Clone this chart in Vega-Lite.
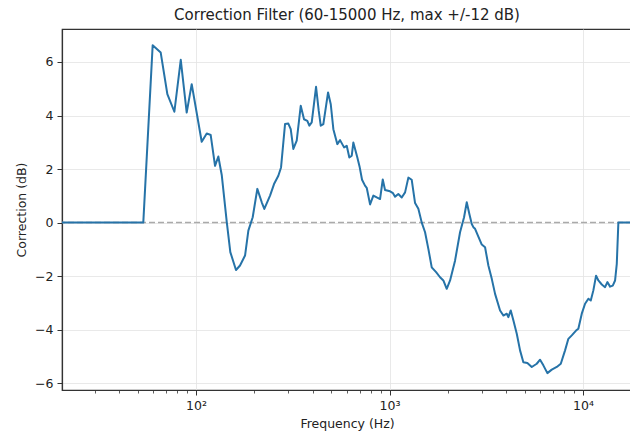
{
  "$schema": "https://vega.github.io/schema/vega-lite/v6.json",
  "width": 570,
  "height": 361,
  "autosize": {"type": "none"},
  "padding": {"left": 62, "top": 29, "right": 0, "bottom": 45},
  "title": {"text": "Correction Filter (60-15000 Hz, max +/-12 dB)", "font": "DejaVu Sans", "fontSize": 15, "fontWeight": "normal", "color": "#222222", "offset": 6, "anchor": "middle"},
  "config": {
    "view": {"stroke": "#333333", "strokeWidth": 1.2},
    "axis": {
      "domainColor": "#333333", "domainWidth": 1.2,
      "tickColor": "#333333", "tickWidth": 1, "tickSize": 5,
      "labelFont": "DejaVu Sans", "labelFontSize": 12.5, "labelColor": "#222222",
      "titleFont": "DejaVu Sans", "titleFontSize": 12.5, "titleFontWeight": "normal", "titleColor": "#222222",
      "gridColor": "#e3e3e3", "gridWidth": 0.8
    }
  },
  "layer": [
    {
      "data": {"values": [{"ref": 0}]},
      "mark": {"type": "rule", "strokeDash": [6, 3], "color": "#aaaaaa", "strokeWidth": 1.5},
      "encoding": {"y": {"field": "ref", "type": "quantitative"}}
    },
    {
      "data": {"values": [
        {"freq": 20.3, "db": 0}, {"freq": 53.4, "db": 0}, {"freq": 59.7, "db": 6.62}, {"freq": 65.7, "db": 6.35},
        {"freq": 71.1, "db": 4.8}, {"freq": 77.3, "db": 4.14}, {"freq": 83.4, "db": 6.08}, {"freq": 89.5, "db": 4.11},
        {"freq": 95.0, "db": 5.17}, {"freq": 107.0, "db": 3.02}, {"freq": 113.6, "db": 3.33}, {"freq": 119.1, "db": 3.27},
        {"freq": 125.4, "db": 2.12}, {"freq": 130.4, "db": 2.47}, {"freq": 135.8, "db": 1.78}, {"freq": 144.1, "db": 0.04},
        {"freq": 150.4, "db": -1.1}, {"freq": 160.9, "db": -1.77}, {"freq": 168.8, "db": -1.6}, {"freq": 179.2, "db": -1.23},
        {"freq": 186.4, "db": -0.3}, {"freq": 196.3, "db": 0.2}, {"freq": 207.4, "db": 1.26}, {"freq": 218.6, "db": 0.76},
        {"freq": 225.4, "db": 0.51}, {"freq": 241.3, "db": 1.01}, {"freq": 253.0, "db": 1.44}, {"freq": 266.3, "db": 1.75},
        {"freq": 275.0, "db": 2.06}, {"freq": 288.4, "db": 3.68}, {"freq": 299.9, "db": 3.7}, {"freq": 308.6, "db": 3.49},
        {"freq": 318.3, "db": 2.75}, {"freq": 331.4, "db": 3.06}, {"freq": 347.6, "db": 4.36}, {"freq": 361.5, "db": 3.86},
        {"freq": 376.0, "db": 3.8}, {"freq": 385.1, "db": 3.62}, {"freq": 396.2, "db": 3.74}, {"freq": 417.1, "db": 5.07},
        {"freq": 430.7, "db": 4.17}, {"freq": 441.0, "db": 3.62}, {"freq": 455.0, "db": 3.68}, {"freq": 481.2, "db": 4.86},
        {"freq": 496.9, "db": 4.42}, {"freq": 512.5, "db": 3.49}, {"freq": 537.4, "db": 2.93}, {"freq": 555.0, "db": 3.08},
        {"freq": 582.1, "db": 2.81}, {"freq": 600.9, "db": 2.87}, {"freq": 619.8, "db": 2.43}, {"freq": 637.8, "db": 2.5},
        {"freq": 650.0, "db": 2.99}, {"freq": 681.7, "db": 2.43}, {"freq": 699.8, "db": 2.1}, {"freq": 721.0, "db": 1.6},
        {"freq": 746.9, "db": 1.38}, {"freq": 762.2, "db": 1.3}, {"freq": 793.2, "db": 0.68}, {"freq": 824.9, "db": 1.01},
        {"freq": 858.9, "db": 0.94}, {"freq": 893.2, "db": 0.88}, {"freq": 922.5, "db": 1.61}, {"freq": 947.8, "db": 1.22},
        {"freq": 1006, "db": 1.17}, {"freq": 1042, "db": 1.1}, {"freq": 1068, "db": 0.97}, {"freq": 1110, "db": 1.07},
        {"freq": 1156, "db": 0.94}, {"freq": 1203, "db": 1.13}, {"freq": 1251, "db": 1.68}, {"freq": 1302, "db": 1.6},
        {"freq": 1355, "db": 0.73}, {"freq": 1409, "db": 0.52}, {"freq": 1467, "db": 0.0}, {"freq": 1526, "db": -0.36},
        {"freq": 1587, "db": -0.98}, {"freq": 1652, "db": -1.67}, {"freq": 1740, "db": -1.85}, {"freq": 1824, "db": -2.04},
        {"freq": 1897, "db": -2.16}, {"freq": 1975, "db": -2.47}, {"freq": 2055, "db": -2.16}, {"freq": 2180, "db": -1.42},
        {"freq": 2314, "db": -0.36}, {"freq": 2427, "db": 0.2}, {"freq": 2506, "db": 0.76}, {"freq": 2585, "db": 0.32},
        {"freq": 2660, "db": -0.05}, {"freq": 2711, "db": -0.17}, {"freq": 2767, "db": -0.23}, {"freq": 2877, "db": -0.52},
        {"freq": 2996, "db": -0.82}, {"freq": 3116, "db": -0.92}, {"freq": 3241, "db": -1.6}, {"freq": 3375, "db": -2.1},
        {"freq": 3510, "db": -2.66}, {"freq": 3725, "db": -3.28}, {"freq": 3874, "db": -3.47}, {"freq": 4034, "db": -3.4},
        {"freq": 4111, "db": -3.53}, {"freq": 4230, "db": -3.28}, {"freq": 4363, "db": -3.65}, {"freq": 4544, "db": -4.15},
        {"freq": 4725, "db": -4.77}, {"freq": 4914, "db": -5.21}, {"freq": 5154, "db": -5.24}, {"freq": 5431, "db": -5.39},
        {"freq": 5764, "db": -5.27}, {"freq": 5995, "db": -5.12}, {"freq": 6234, "db": -5.33}, {"freq": 6541, "db": -5.62},
        {"freq": 6891, "db": -5.49}, {"freq": 7314, "db": -5.39}, {"freq": 7672, "db": -5.27}, {"freq": 8072, "db": -4.77},
        {"freq": 8395, "db": -4.34}, {"freq": 8742, "db": -4.21}, {"freq": 9199, "db": -4.03}, {"freq": 9455, "db": -3.96},
        {"freq": 9847, "db": -3.4}, {"freq": 10240, "db": -3.03}, {"freq": 10651, "db": -2.84}, {"freq": 10960, "db": -2.91},
        {"freq": 11303, "db": -2.53}, {"freq": 11674, "db": -1.98}, {"freq": 11998, "db": -2.16}, {"freq": 12492, "db": -2.31},
        {"freq": 12993, "db": -2.41}, {"freq": 13354, "db": -2.22}, {"freq": 13790, "db": -2.39}, {"freq": 14240, "db": -2.35},
        {"freq": 14636, "db": -2.16}, {"freq": 14935, "db": -1.54}, {"freq": 15220, "db": 0.0}, {"freq": 17900, "db": 0}
      ]},
      "mark": {"type": "line", "color": "#2673a8", "strokeWidth": 2, "strokeJoin": "round"},
      "encoding": {
        "x": {
          "field": "freq", "type": "quantitative",
          "scale": {"type": "log", "domain": [20.3, 17900], "nice": false},
          "axis": {
            "title": "Frequency (Hz)", "orient": "bottom",
            "values": [30, 40, 50, 60, 70, 80, 90, 100, 200, 300, 400, 500, 600, 700, 800, 900, 1000, 2000, 3000, 4000, 5000, 6000, 7000, 8000, 9000, 10000],
            "labelExpr": "datum.value == 100 ? '10²' : datum.value == 1000 ? '10³' : datum.value == 10000 ? '10⁴' : ''",
            "labelOverlap": false, "labelPadding": 4, "titlePadding": 6,
            "grid": true,
            "gridOpacity": {"condition": {"test": "datum.value == 100 || datum.value == 1000 || datum.value == 10000", "value": 1}, "value": 0},
            "tickSize": {"condition": {"test": "datum.value == 100 || datum.value == 1000 || datum.value == 10000", "value": 5}, "value": 3},
            "tickWidth": {"condition": {"test": "datum.value == 100 || datum.value == 1000 || datum.value == 10000", "value": 1}, "value": 0.8}
          }
        },
        "y": {
          "field": "db", "type": "quantitative",
          "scale": {"domain": [-6.25, 7.23], "nice": false, "zero": false},
          "axis": {"title": "Correction (dB)", "values": [-6, -4, -2, 0, 2, 4, 6], "grid": true, "labelPadding": 4, "titlePadding": 6}
        }
      }
    }
  ]
}
